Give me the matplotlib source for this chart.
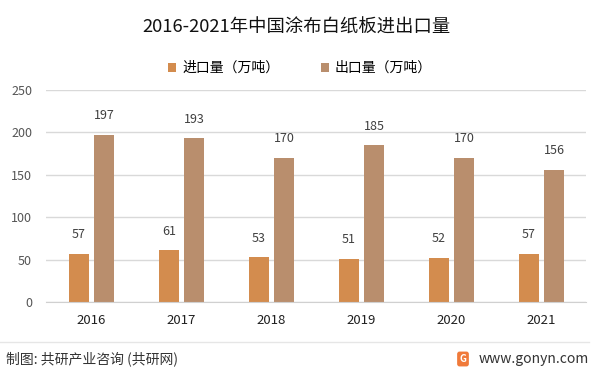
import matplotlib
matplotlib.use("Agg")
import matplotlib.pyplot as plt
import numpy as np

plt.rcParams['font.family'] = ['Noto Sans CJK SC', 'DejaVu Sans']

years = ['2016', '2017', '2018', '2019', '2020', '2021']
imports = [57, 61, 53, 51, 52, 57]
exports = [197, 193, 170, 185, 170, 156]
yticks = [0, 50, 100, 150, 200, 250]

fig = plt.figure(figsize=(5.98, 3.72), dpi=100)
ax = fig.add_axes([46 / 598, 1 - 302 / 372, 540 / 598, 212 / 372])

x = np.arange(len(years))
w = 0.225
b1 = ax.bar(x - 0.135, imports, w, color='#D38C4E', label='进口量（万吨）')
b2 = ax.bar(x + 0.145, exports, w, color='#B98E6D', label='出口量（万吨）')

for bars, vals in [(b1, imports), (b2, exports)]:
    for r, v in zip(bars, vals):
        ax.annotate(str(v), (r.get_x() + r.get_width() / 2, v), xytext=(0, 9),
                    textcoords='offset points', ha='center', va='bottom',
                    fontsize=9, color='#404040')

ax.set_xlim(-0.5, len(years) - 0.5)
ax.set_ylim(0, 250)
ax.set_yticks(yticks)
ax.set_xticks(x)
ax.set_xticklabels(years, fontsize=9.5, color='#202020')
ax.tick_params(axis='y', labelsize=9, colors='#555555', length=0, pad=10)
ax.tick_params(axis='x', length=0, pad=9)
ax.grid(axis='y', color='#D9D9D9', linewidth=1)
ax.set_axisbelow(True)
for s in ['top', 'right', 'left']:
    ax.spines[s].set_visible(False)
ax.spines['bottom'].set_color('#D0D0D0')

fig.text(296 / 598, 1 - 28 / 372, '2016-2021年中国涂布白纸板进出口量', ha='center', va='center',
         fontsize=13.2, color='#111111')
fig.legend(handles=[b1, b2], loc='center', bbox_to_anchor=(300 / 598, 1 - 68 / 372),
           ncol=2, frameon=False, fontsize=10, handlelength=0.6, handleheight=0.6,
           columnspacing=3.0, handletextpad=0.4)

# footer
fig.add_artist(plt.Line2D([0.0, 0.985], [1 - 342 / 372, 1 - 342 / 372], color='#E6E6E6', lw=1))
fig.text(6 / 598, 1 - 359 / 372, '制图: 共研产业咨询 (共研网)', ha='left', va='center',
         fontsize=10, color='#333333')
fig.text(589 / 598, 1 - 359 / 372, 'www.gonyn.com', ha='right', va='center',
         fontsize=10, color='#333333')
fig.text(463 / 598, 1 - 359 / 372, 'G', ha='center', va='center', fontsize=7,
         fontweight='bold', color='white',
         bbox=dict(boxstyle='round,pad=0.25', fc='#F07A3A', ec='none'))

fig.savefig('out.png', dpi=100)
